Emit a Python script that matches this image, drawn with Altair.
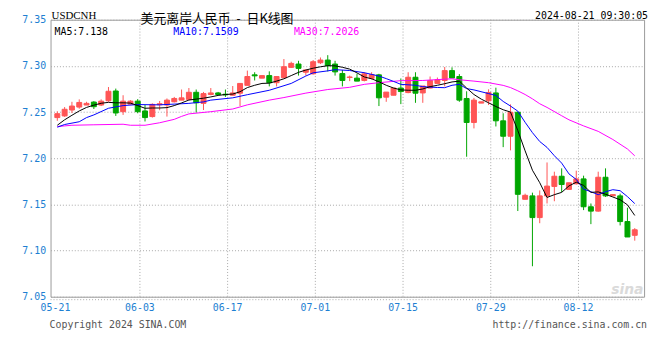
import altair as alt
import pandas as pd

# ---------------- data ----------------
dates = [d.strftime("%m-%d") for d in pd.date_range("2024-05-21", "2024-08-21") if d.weekday() != 6]

open_ = [7.2440, 7.2458, 7.2522, 7.2554, 7.2576, 7.2608, 7.2576, 7.2622, 7.2728, 7.2504,
         7.2586, 7.2618, 7.2512, 7.2451, 7.2579, 7.2576, 7.2611, 7.2629, 7.2637, 7.2714,
         7.2594, 7.2690, 7.2707, 7.2693, 7.2682, 7.2704, 7.2789, 7.2903, 7.2867, 7.2895,
         7.2818, 7.2871, 7.2984, 7.3020, 7.2931, 7.2914, 7.3034, 7.3063, 7.3020, 7.2917,
         7.2874, 7.2867, 7.2842, 7.2864, 7.2903, 7.2661, 7.2682, 7.2760, 7.2711, 7.2877,
         7.2707, 7.2760, 7.2810, 7.2842, 7.2949, 7.2885, 7.2647, 7.2387, 7.2597, 7.2622,
         7.2707, 7.2405, 7.2238, 7.2498, 7.1555, 7.1592, 7.1357, 7.1592, 7.1694, 7.1805,
         7.1662, 7.1723, 7.1776, 7.1474, 7.1427, 7.1794, 7.1592, 7.1592, 7.1314, 7.1165]
high = [7.2508, 7.2554, 7.2611, 7.2637, 7.2611, 7.2618, 7.2637, 7.2771, 7.2754, 7.2682,
        7.2629, 7.2640, 7.2576, 7.2594, 7.2620, 7.2647, 7.2664, 7.2744, 7.2760, 7.2744,
        7.2718, 7.2760, 7.2718, 7.2744, 7.2782, 7.2813, 7.2949, 7.2931, 7.2895, 7.2941,
        7.2885, 7.3074, 7.3045, 7.3055, 7.2956, 7.3063, 7.3091, 7.3116, 7.3055, 7.2956,
        7.2895, 7.2914, 7.2931, 7.2931, 7.2914, 7.2716, 7.2760, 7.2864, 7.2931, 7.2931,
        7.2782, 7.2885, 7.2874, 7.2988, 7.2984, 7.2911, 7.2725, 7.2653, 7.2611, 7.2746,
        7.2764, 7.2487, 7.2583, 7.2498, 7.1616, 7.1627, 7.1651, 7.1954, 7.1854, 7.1890,
        7.1734, 7.1865, 7.1811, 7.1510, 7.1854, 7.1890, 7.1606, 7.1616, 7.1464, 7.1243]
low = [7.2405, 7.2448, 7.2490, 7.2536, 7.2576, 7.2533, 7.2565, 7.2611, 7.2458, 7.2469,
       7.2586, 7.2487, 7.2398, 7.2440, 7.2520, 7.2451, 7.2604, 7.2629, 7.2629, 7.2494,
       7.2522, 7.2682, 7.2682, 7.2664, 7.2682, 7.2565, 7.2789, 7.2842, 7.2867, 7.2778,
       7.2778, 7.2871, 7.2978, 7.2895, 7.2895, 7.2906, 7.3020, 7.2940, 7.2895, 7.2778,
       7.2835, 7.2835, 7.2832, 7.2853, 7.2565, 7.2611, 7.2682, 7.2586, 7.2704, 7.2600,
       7.2600, 7.2757, 7.2810, 7.2778, 7.2869, 7.2611, 7.2016, 7.2323, 7.2597, 7.2576,
       7.2344, 7.2120, 7.2085, 7.1428, 7.1555, 7.0830, 7.1296, 7.1510, 7.1534, 7.1634,
       7.1662, 7.1715, 7.1438, 7.1286, 7.1421, 7.1581, 7.1592, 7.1272, 7.1147, 7.1107]
close = [7.2482, 7.2530, 7.2565, 7.2604, 7.2594, 7.2558, 7.2618, 7.2725, 7.2490, 7.2618,
         7.2618, 7.2504, 7.2440, 7.2583, 7.2590, 7.2629, 7.2647, 7.2654, 7.2714, 7.2600,
         7.2700, 7.2707, 7.2690, 7.2686, 7.2707, 7.2810, 7.2885, 7.2892, 7.2895, 7.2818,
         7.2885, 7.2991, 7.3027, 7.2973, 7.2956, 7.3045, 7.3063, 7.3002, 7.2935, 7.2842,
         7.2880, 7.2835, 7.2914, 7.2906, 7.2654, 7.2716, 7.2760, 7.2722, 7.2877, 7.2704,
         7.2782, 7.2842, 7.2850, 7.2949, 7.2869, 7.2629, 7.2387, 7.2629, 7.2611, 7.2711,
         7.2405, 7.2238, 7.2498, 7.1609, 7.1598, 7.1357, 7.1592, 7.1698, 7.1805, 7.1715,
         7.1734, 7.1776, 7.1474, 7.1427, 7.1794, 7.1592, 7.1606, 7.1314, 7.1147, 7.1225]

ma5 = [7.2357, 7.2416, 7.2465, 7.2512, 7.2550, 7.2575, 7.2595, 7.2605, 7.2600, 7.2600,
       7.2597, 7.2570, 7.2541, 7.2544, 7.2544, 7.2548, 7.2570, 7.2599, 7.2630, 7.2640,
       7.2650, 7.2664, 7.2680, 7.2690, 7.2695, 7.2720, 7.2765, 7.2790, 7.2810, 7.2813,
       7.2835, 7.2860, 7.2895, 7.2930, 7.2955, 7.2975, 7.2990, 7.3002, 7.3000, 7.2985,
       7.2965, 7.2924, 7.2880, 7.2860, 7.2828, 7.2790, 7.2760, 7.2740, 7.2736, 7.2736,
       7.2750, 7.2775, 7.2790, 7.2807, 7.2826, 7.2835, 7.2760, 7.2690, 7.2640, 7.2600,
       7.2560, 7.2525, 7.2500, 7.2300, 7.2080, 7.1870, 7.1735, 7.1575, 7.1605, 7.1630,
       7.1700, 7.1740, 7.1705, 7.1630, 7.1635, 7.1610, 7.1580, 7.1550, 7.1495, 7.1380]

ma10_idx = [0, 1, 3, 4, 5, 7, 9, 11, 14, 18, 20, 21, 24, 26, 29, 32, 34, 35, 37, 38,
            40, 41, 42, 44, 45, 46, 47, 49, 50, 52, 53, 54, 55, 56, 57, 59, 60, 61, 62, 63,
            64, 65, 66, 67, 68, 69, 70, 71, 72, 73, 74, 75, 76, 77, 78, 79]
ma10_val = [7.2336, 7.2365, 7.2395, 7.2440, 7.2469, 7.2541, 7.2570, 7.2581, 7.2578, 7.2594,
            7.2610, 7.2629, 7.2654, 7.2688, 7.2736, 7.2810, 7.2890, 7.2925, 7.2946, 7.2959,
            7.2950, 7.2938, 7.2926, 7.2890, 7.2862, 7.2832, 7.2800, 7.2790, 7.2775, 7.2766,
            7.2764, 7.2790, 7.2800, 7.2754, 7.2740, 7.2700, 7.2680, 7.2615, 7.2565, 7.2510,
            7.2389, 7.2277, 7.2181, 7.2117, 7.2027, 7.1947, 7.1830, 7.1770, 7.1665, 7.1637,
            7.1605, 7.1637, 7.1659, 7.1648, 7.1584, 7.1509]

ma30_idx = [0, 2, 5, 9, 10, 12, 14, 16, 17, 18, 21, 24, 26, 29, 31, 34, 37, 40, 42, 44,
            47, 50, 53, 54, 55, 57, 59, 61, 62, 63, 64, 65, 66, 67, 69, 70, 72, 74, 76, 78, 79]
ma30_val = [7.2343, 7.2357, 7.2362, 7.2368, 7.2357, 7.2357, 7.2384, 7.2421, 7.2453, 7.2480,
            7.2504, 7.2533, 7.2578, 7.2629, 7.2657, 7.2705, 7.2744, 7.2768, 7.2800, 7.2818,
            7.2840, 7.2842, 7.2856, 7.2860, 7.2850, 7.2835, 7.2818, 7.2789, 7.2765, 7.2730,
            7.2690, 7.2643, 7.2590, 7.2550, 7.2460, 7.2416, 7.2350, 7.2291, 7.2203, 7.2100, 7.2026]

tick_labels = ["05-21", "06-03", "06-17", "07-01", "07-15", "07-29", "08-12"]
y_ticks = [7.05, 7.10, 7.15, 7.20, 7.25, 7.30, 7.35]

# ---------------- styling ----------------
W, H = 600, 280
RED, GREEN = "#ff5555", "#00a600"
BLUE_LBL = "#1e7fd2"
GRID = "#a8a8a8"
MONO = "DejaVu Sans Mono"

xs = alt.Scale(domain=[-0.25, 79.6], nice=False, zero=False)
ys = alt.Scale(domain=[7.05, 7.35], nice=False, zero=False)
col = alt.Scale(domain=["up", "down"], range=[RED, GREEN])

candles = pd.DataFrame({
    "i": list(range(len(dates))), "date": dates,
    "o": open_, "h": high, "l": low, "c": close,
})
candles["dir"] = ["up" if c >= o else "down" for o, c in zip(open_, close)]

yaxis = alt.Axis(values=y_ticks, format=".2f", title=None, grid=True, gridDash=[1, 2],
                 gridColor=GRID, gridOpacity=1, domain=False, ticks=False,
                 labelColor=BLUE_LBL, labelFont=MONO, labelFontSize=10, labelPadding=5)


def X(f):
    return alt.X(f, scale=xs, axis=None)


def Y(f):
    return alt.Y(f, scale=ys, axis=yaxis)


# vertical dotted grid
tick_idx = [dates.index(t) for t in tick_labels]
vgrid_df = pd.DataFrame({"pos": [i + 0.3 for i in tick_idx[1:]]})
vgrid = alt.Chart(vgrid_df).mark_rule(color=GRID, strokeDash=[1, 2], strokeWidth=1).encode(x=X("pos:Q"))

wick = alt.Chart(candles).mark_rule(strokeWidth=1).encode(
    x=X("i:Q"),
    y=Y("l:Q"),
    y2="h:Q",
    color=alt.Color("dir:N", scale=col, legend=None),
)
body = alt.Chart(candles).mark_bar(size=5, strokeWidth=1).encode(
    x=X("i:Q"),
    y=Y("o:Q"),
    y2="c:Q",
    color=alt.Color("dir:N", scale=col, legend=None),
    stroke=alt.Stroke("dir:N", scale=col, legend=None),
)

ma5_df = pd.DataFrame({"i": list(range(len(ma5))), "v": ma5})
ma10_df = pd.DataFrame({"i": ma10_idx, "v": ma10_val})
ma30_df = pd.DataFrame({"i": ma30_idx, "v": ma30_val})


def ma_line(df, color):
    return alt.Chart(df).mark_line(color=color, strokeWidth=1).encode(x=X("i:Q"), y=Y("v:Q"))


l30 = ma_line(ma30_df, "#ff00ff")
l10 = ma_line(ma10_df, "#0000ff")
l5 = ma_line(ma5_df, "#000000")

# x labels
xl_df = pd.DataFrame({"pos": [-0.25] + [i + 0.3 for i in tick_idx[1:]], "label": tick_labels})
xlabels = alt.Chart(xl_df).mark_text(font=MONO, fontSize=10, color=BLUE_LBL, baseline="middle",
                                     align="center").encode(x=X("pos:Q"), y=alt.value(H + 11), text="label:N")

# dotted line under frame
under = alt.Chart(pd.DataFrame({"a": [0]})).mark_rule(color=GRID, strokeDash=[1, 2]).encode(
    x=alt.value(0), x2=alt.value(W), y=alt.value(H + 3))


def txt(s, x, y, align="left", color="black", font=MONO, size=10, **kw):
    return alt.Chart(pd.DataFrame({"t": [s]})).mark_text(
        align=align, baseline="middle", color=color, font=font, fontSize=size, **kw
    ).encode(x=alt.value(x), y=alt.value(y), text="t:N")


NB = "\u00a0"
texts = [
    txt("USDCNH", 1, -4, font="Liberation Serif", size=11),
    txt(f"美元离岸人民币{NB}{NB}-{NB}{NB}日K线图", 91, -1, font="Noto Sans CJK SC", size=13),
    txt("2024-08-21 09:30:05", 604, -4, align="right"),
    txt(f"MA5:{ma5[-1]:.3f}", 4, 12),
    txt(f"MA10:{ma10_val[-1]:.4f}", 124, 12, color="#0000ff"),
    txt(f"MA30:{ma30_val[-1]:.4f}", 246, 12, color="#ff00ff"),
    txt("Copyright 2024 SINA.COM", -1, 309, color="#555555"),
    txt("http://finance.sina.com.cn", 603, 309, align="right", color="#555555"),
    txt("sina", 583, 273, align="center", color="#dadada", font="DejaVu Sans", size=14,
        fontStyle="italic", fontWeight="bold"),
]

chart = alt.layer(vgrid, wick, body, l30, l10, l5, xlabels, under, *texts).properties(
    width=W, height=H,
    padding={"left": 43, "top": 10, "right": 8, "bottom": 50},
    autosize=alt.AutoSizeParams(type="none"),
    background="white",
).configure_view(stroke="#9a9a9a", strokeWidth=1)

chart.save("out.html", embed_options={"renderer": "svg", "actions": False})
